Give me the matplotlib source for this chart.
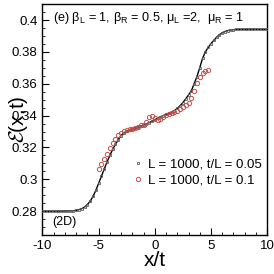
import numpy as np
import matplotlib
matplotlib.use("Agg")
import matplotlib.pyplot as plt
from matplotlib.ticker import MultipleLocator

plt.rcParams['font.family'] = ['Liberation Sans', 'DejaVu Sans']
plt.rcParams['mathtext.fontset'] = 'cm'

# series 1: L = 1000, t/L = 0.05 (x/t grid step 0.25 from -10 to 10)
x1 = np.arange(-10, 10.001, 0.25)
y1 = [0.2800, 0.2800, 0.2800, 0.2800, 0.2800, 0.2800, 0.2800, 0.2801, 0.2801, 0.2802,
      0.2802, 0.2803, 0.2805, 0.2810, 0.2816, 0.2826, 0.2842, 0.2863, 0.2893, 0.2930,
      0.2975, 0.3020, 0.3065, 0.3110, 0.3150, 0.3188, 0.3220, 0.3250, 0.3275, 0.3292,
      0.3302, 0.3310, 0.3316, 0.3322, 0.3328, 0.3334, 0.3340, 0.3348, 0.3356, 0.3365,
      0.3373, 0.3385, 0.3393, 0.3400, 0.3408, 0.3415, 0.3423, 0.3432, 0.3445, 0.3462,
      0.3482, 0.3505, 0.3530, 0.3555, 0.3600, 0.3645, 0.3700, 0.3760, 0.3800, 0.3828,
      0.3852, 0.3872, 0.3892, 0.3908, 0.3920, 0.3928, 0.3934, 0.3938, 0.3940, 0.3941,
      0.3941, 0.3942, 0.3942, 0.3942, 0.3942, 0.3942, 0.3942, 0.3942, 0.3942, 0.3942,
      0.3942]

# series 2: L = 1000, t/L = 0.1 (x/t grid step 0.25 from -5 to 4.75)
x2 = np.arange(-5, 4.751, 0.25)
y2 = [0.3065, 0.3095, 0.3130, 0.3162, 0.3195, 0.3228, 0.3255, 0.3278, 0.3293, 0.3303,
      0.3310, 0.3314, 0.3318, 0.3322, 0.3330, 0.3338, 0.3344, 0.3362, 0.3390, 0.3400,
      0.3388, 0.3372, 0.3378, 0.3392, 0.3402, 0.3410, 0.3416, 0.3422, 0.3430, 0.3442,
      0.3452, 0.3465, 0.3482, 0.3510, 0.3555, 0.3605, 0.3645, 0.3665, 0.3678, 0.3687]

labels = ['L = 1000, t/L = 0.05', 'L = 1000, t/L = 0.1']
xticks = [-10, -5, 0, 5, 10]
yticks = [0.28, 0.3, 0.32, 0.34, 0.36, 0.38, 0.4]
yticklabels = ['0.28', '0.3', '0.32', '0.34', '0.36', '0.38', '0.4']

fig = plt.figure(figsize=(2.74, 2.74), dpi=100)
ax = fig.add_axes([0.155, 0.142, 0.82, 0.843])

ax.plot(x1, y1, color='black', lw=1.0, zorder=2)
ax.plot(x1, y1, ls='none', marker='s', ms=2.1, mfc='none', mec='#606060', mew=0.6,
        label=labels[0], zorder=3)
ax.plot(x2, y2, ls='none', marker='o', ms=3.1, mfc='none', mec='#c0504d', mew=0.7,
        label=labels[1], zorder=4)

ax.set_xlim(-10, 10)
ax.set_ylim(0.265, 0.41)
ax.set_xticks(xticks)
ax.set_xticklabels([str(t) for t in xticks])
ax.set_yticks(yticks)
ax.set_yticklabels(yticklabels)
ax.xaxis.set_minor_locator(MultipleLocator(1))
ax.yaxis.set_minor_locator(MultipleLocator(0.005))
ax.tick_params(which='both', direction='in', top=False, right=False, labelsize=9.5)
ax.tick_params(which='major', length=5, width=0.8)
ax.tick_params(which='minor', length=2.5, width=0.6)
for s in ax.spines.values():
    s.set_linewidth(1.0)

ax.set_xlabel('x/t', fontsize=15, labelpad=-1)
ax.set_ylabel(r'$\mathcal{E}$(x,t)', fontsize=15, labelpad=-13)

ax.text(0.045, 0.975, r'(e) $\mathregular{\beta_L}$ = 1, $\mathregular{\beta_R}$ = 0.5, $\mathregular{\mu_L}$ =2,  $\mathregular{\mu_R}$ = 1',
        transform=ax.transAxes, ha='left', va='top', fontsize=9.1)
ax.text(0.045, 0.03, '(2D)', transform=ax.transAxes, ha='left', va='bottom', fontsize=9)

ax.legend(loc='center left', bbox_to_anchor=(0.385, 0.27), frameon=False, fontsize=9.5,
          handlelength=0.5, handletextpad=0.55, borderaxespad=0, labelspacing=0.3)

fig.savefig('out.png', dpi=100)
